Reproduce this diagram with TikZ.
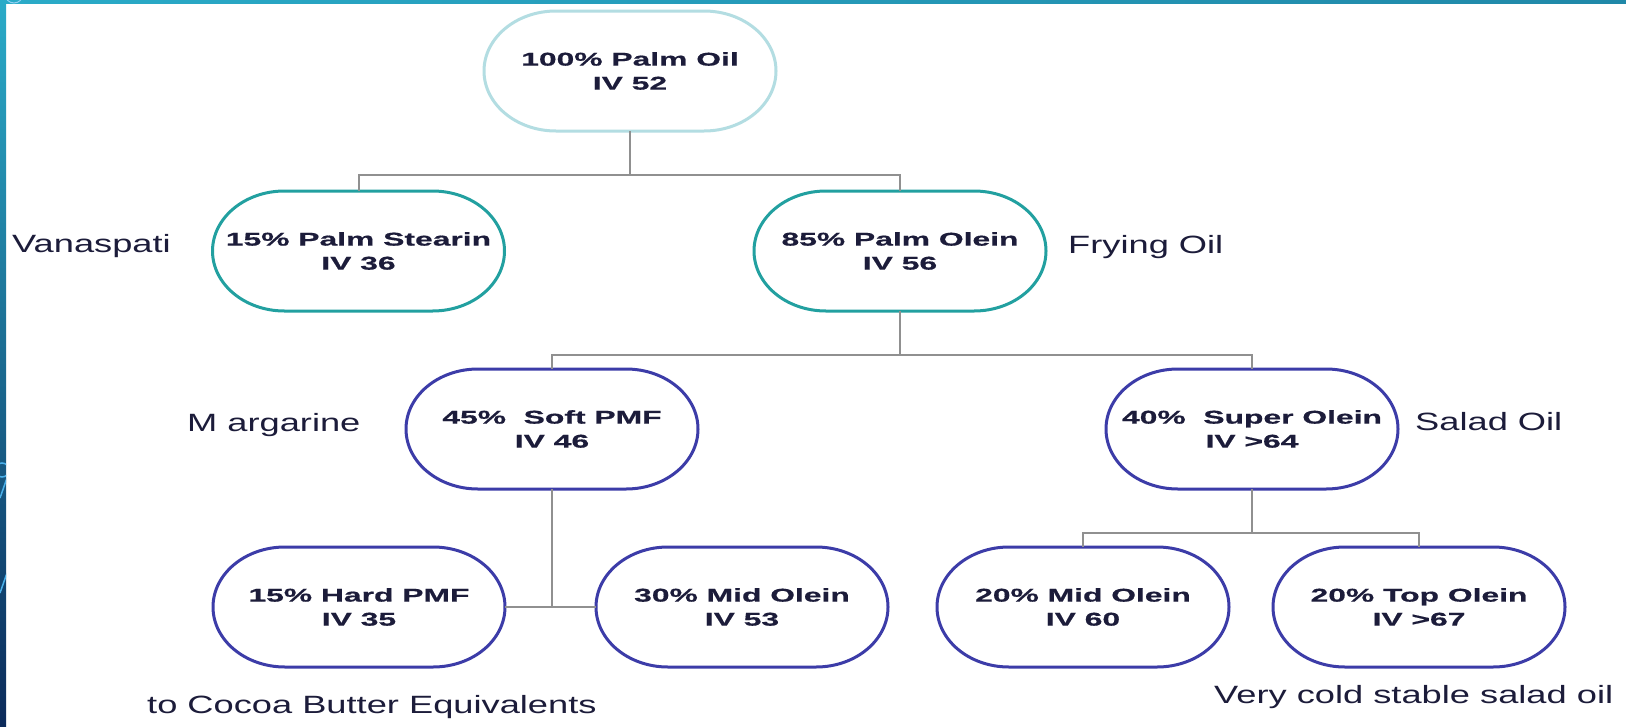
\documentclass[tikz,border=0pt]{standalone}
\usepackage{fontspec}
\setmainfont{Liberation Sans}
\newfontfamily\nodefont[FakeStretch=1.72,FakeBold=0.6]{Liberation Sans}
\newfontfamily\labfont[FakeStretch=1.45]{Liberation Sans}
\definecolor{txt}{HTML}{1C1C3A}
\definecolor{lightteal}{HTML}{B3DDE2}
\definecolor{teal2}{HTML}{22A0A0}
\definecolor{blue2}{HTML}{3C3CA8}
\definecolor{conngray}{HTML}{909090}
\definecolor{bandtop}{HTML}{2AABC8}
\definecolor{bandbot}{HTML}{0B2A5A}
\definecolor{bandright}{HTML}{2088A8}
\definecolor{deco}{HTML}{4AB0EA}
\begin{document}
\begin{tikzpicture}[x=1pt,y=-1pt,
  pill/.style={draw=none,outer sep=0pt,minimum width=292pt,minimum height=120pt,
    inner sep=0pt,align=center,text=txt,font=\nodefont\bfseries\fontsize{18.5}{24}\selectfont},
  outline/.style={line width=3pt},
  lab/.style={anchor=base west,inner sep=0pt,text=txt,font=\labfont\fontsize{25}{30}\selectfont},
  conn/.style={draw=conngray,line width=2pt}]
\useasboundingbox (0,0) rectangle (1626,726);
\fill[white] (0,0) rectangle (1626,726);
% theme bands
\shade[top color=bandtop,bottom color=bandbot] (0,0) rectangle (6,726);
\shade[left color=bandtop,right color=bandright] (0,0) rectangle (1626,3.5);
\begin{scope}
\clip (0,0) rectangle (6,726);
\draw[deco,line width=1.5pt] (2,470) circle (7);
\draw[deco,line width=1.5pt] (7,478) -- (0,498);
\draw[deco,line width=1.5pt] (7,573) -- (0,593);
\end{scope}
\begin{scope}
\clip (0,0) rectangle (40,4);
\draw[deco!60,line width=1pt] (14,-6) circle (9);
\end{scope}
% nodes
\node[pill] (po) at (630,71) {100\% Palm Oil\\IV 52};
\node[pill] (ps) at (358.5,251) {15\% Palm Stearin\\IV 36};
\node[pill] (pol) at (900,251) {85\% Palm Olein\\IV 56};
\node[pill] (spmf) at (552,429) {45\%\ \ Soft PMF\\IV 46};
\node[pill] (sol) at (1252,429) {40\%\ \ Super Olein\\IV >64};
\node[pill] (hpmf) at (359,607) {15\% Hard PMF\\IV 35};
\node[pill] (mol) at (742,607) {30\% Mid Olein\\IV 53};
\node[pill] (mol2) at (1083,607) {20\% Mid Olein\\IV 60};
\node[pill] (tol) at (1419,607) {20\% Top Olein\\IV >67};
% outlines with elliptical ends
\foreach \n/\c in {po/lightteal,ps/teal2,pol/teal2,spmf/blue2,sol/blue2,hpmf/blue2,mol/blue2,mol2/blue2,tol/blue2}{
  \draw[outline,draw=\c] ([xshift=72pt]\n.north west) -- ([xshift=-72pt]\n.north east)
    arc[start angle=90,end angle=-90,x radius=72pt,y radius=60pt]
    -- ([xshift=72pt]\n.south west)
    arc[start angle=270,end angle=90,x radius=72pt,y radius=60pt] -- cycle;
}
% labels
\node[lab] (lvan) at (12,252) {Vanaspati};
\node[lab] (lfry) at (1068,253) {Frying Oil};
\node[lab] (lmar) at (187,431) {M argarine};
\node[lab] (lsal) at (1415,430) {Salad Oil};
\node[lab] (lcbe) at (147,713) {to Cocoa Butter Equivalents};
\node[lab] (lvcs) at (1214,703) {Very cold stable salad oil};
% junctions
\coordinate (j1) at (630,175);
\coordinate (j2) at (900,355);
\coordinate (j3) at (1252,533);
% connectors
\draw[conn] (po.south) -- (j1) -| (ps.north);
\draw[conn] (j1) -| (pol.north);
\draw[conn] (pol.south) -- (j2) -| (spmf.north);
\draw[conn] (j2) -| (sol.north);
\draw[conn] (hpmf.east) -- (mol.west);
\draw[conn] (spmf.south) -- (spmf.south |- hpmf.east);
\draw[conn] (sol.south) -- (j3) -| (mol2.north);
\draw[conn] (j3) -| (tol.north);
\end{tikzpicture}
\end{document}
